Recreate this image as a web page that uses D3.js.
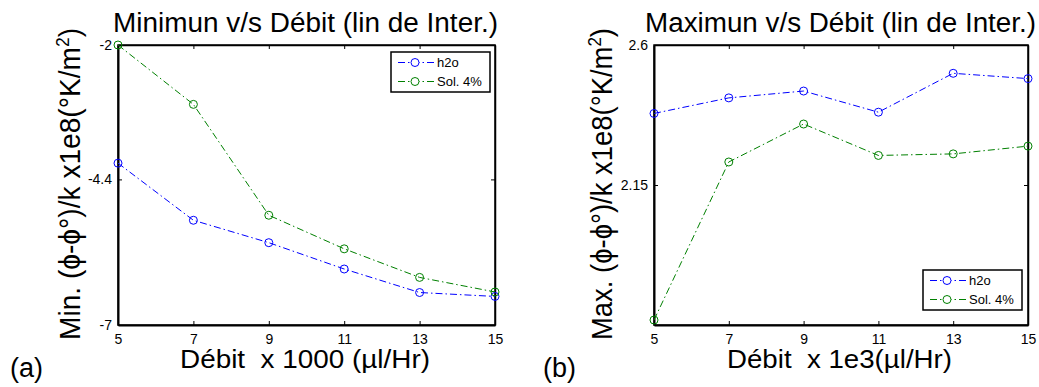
<!DOCTYPE html>
<html>
<head>
<meta charset="utf-8">
<script src="https://cdn.jsdelivr.net/npm/d3@7"></script>
<style>
  html, body { margin: 0; padding: 0; background: #fff; }
  svg { display: block; font-family: "Liberation Sans", Arial, sans-serif; }
</style>
</head>
<body>
<svg id="chart" width="1039" height="387"></svg>
<script>
// ---- data ----
const debit = [5, 7, 9, 11, 13, 15];
const seriesNames = ["h2o", "Sol. 4%"];
const minH2o = [-4.11, -5.13, -5.53, -6.00, -6.42, -6.49];
const minSol = [-2.00, -3.06, -5.04, -5.64, -6.15, -6.41];
const maxH2o = [2.380, 2.430, 2.452, 2.384, 2.509, 2.492];
const maxSol = [1.716, 2.224, 2.346, 2.245, 2.250, 2.275];
const minYTicks = [-2, -4.4, -7];
const maxYTicks = [2.6, 2.15];
const xTicks = [5, 7, 9, 11, 13, 15];

const colors = ["#0000ff", "#008000"];
const svg = d3.select("#chart");

function panel(opts) {
  const x = d3.scaleLinear().domain([5, 15]).range([opts.x0, opts.x1]);
  const y = d3.scaleLinear().domain(opts.ydom).range([325, 45]);
  const g = svg.append("g");

  // box
  g.append("rect").attr("x", opts.x0).attr("y", 45)
    .attr("width", opts.x1 - opts.x0).attr("height", 280)
    .attr("fill", "none").attr("stroke", "#000").attr("stroke-width", 1.5);

  // axes with inward ticks
  const fmtY = d => String(d);
  const ax = g.append("g").attr("transform", `translate(0,325)`)
    .call(d3.axisBottom(x).tickValues(xTicks).tickSizeInner(-4).tickSizeOuter(0).tickPadding(9));
  const axT = g.append("g").attr("transform", `translate(0,45)`)
    .call(d3.axisTop(x).tickValues(xTicks).tickSizeInner(-4).tickSizeOuter(0).tickFormat(""));
  const ay = g.append("g").attr("transform", `translate(${opts.x0},0)`)
    .call(d3.axisLeft(y).tickValues(opts.yticks).tickSizeInner(-4).tickSizeOuter(0).tickPadding(6).tickFormat(fmtY));
  const ayR = g.append("g").attr("transform", `translate(${opts.x1},0)`)
    .call(d3.axisRight(y).tickValues(opts.yticks).tickSizeInner(-4).tickSizeOuter(0).tickFormat(""));
  [ax, axT, ay, ayR].forEach(a => {
    a.select(".domain").attr("stroke", "#000").attr("stroke-width", 1.5);
    a.selectAll(".tick line").attr("stroke", "#000");
    a.selectAll("text").attr("font-size", 14).attr("fill", "#000")
      .attr("font-family", "'Liberation Sans', Arial, sans-serif");
  });
  ax.select(".domain").attr("stroke-width", 2);
  ay.select(".domain").attr("stroke-width", 2);

  // series
  const line = d3.line().x((d, i) => x(debit[i])).y(d => y(d));
  opts.series.forEach((s, k) => {
    g.append("path").datum(s).attr("d", line)
      .attr("fill", "none").attr("stroke", colors[k]).attr("stroke-width", 1)
      .attr("stroke-dasharray", "7,3,1.5,3");
    g.selectAll(null).data(s).enter().append("circle")
      .attr("cx", (d, i) => x(debit[i])).attr("cy", d => y(d)).attr("r", 4)
      .attr("fill", "none").attr("stroke", colors[k]).attr("stroke-width", 1);
  });

  // legend
  const L = opts.legend;
  g.append("rect").attr("x", L.x).attr("y", L.y).attr("width", 99).attr("height", 40)
    .attr("fill", "#fff").attr("stroke", "#000").attr("stroke-width", 1.5);
  seriesNames.forEach((n, k) => {
    const cy = L.y + 10.5 + k * 19;
    g.append("line").attr("x1", L.x + 7).attr("x2", L.x + 44).attr("y1", cy).attr("y2", cy)
      .attr("stroke", colors[k]).attr("stroke-width", 1).attr("stroke-dasharray", "7,3,1.5,3");
    g.append("circle").attr("cx", L.x + 24).attr("cy", cy).attr("r", 4)
      .attr("fill", "#fff").attr("stroke", colors[k]).attr("stroke-width", 1);
    g.append("text").attr("x", L.x + 46).attr("y", cy + 4.5).attr("font-size", 13)
      .attr("fill", "#000").text(n);
  });

  // titles and labels
  g.append("text").attr("x", opts.titleX).attr("y", 32).attr("text-anchor", "middle")
    .attr("font-size", 27).attr("fill", "#000")
    .attr("textLength", opts.titleLen).attr("lengthAdjust", "spacingAndGlyphs").text(opts.title);
  g.append("text").attr("x", opts.xlabX).attr("y", 368).attr("text-anchor", "middle")
    .attr("font-size", 25).attr("fill", "#000").attr("xml:space", "preserve")
    .attr("textLength", opts.xlabLen).attr("lengthAdjust", "spacingAndGlyphs").text(opts.xlabel);
  g.append("text").attr("transform", `translate(${opts.ylabX},184) rotate(-90)`)
    .attr("text-anchor", "middle").attr("font-size", 29).attr("fill", "#000")
    .attr("textLength", 312).attr("lengthAdjust", "spacingAndGlyphs")
    .html(opts.ylabel);
  g.append("text").attr("x", opts.tagX).attr("y", 377).attr("font-size", 27)
    .attr("fill", "#000").text(opts.tag);
}

panel({
  x0: 118, x1: 495, ydom: [-7, -2], yticks: minYTicks,
  series: [minH2o, minSol],
  legend: { x: 391, y: 52 },
  title: "Minimun v/s Débit (lin de Inter.)", titleX: 305.5, titleLen: 385,
  xlabel: "Débit  x 1000 (µl/Hr)", xlabX: 305, xlabLen: 250,
  ylabel: "Min. (ϕ-ϕ°)/k x1e8(°K/m<tspan font-size='18' dy='-11'>2</tspan><tspan dy='11'>)</tspan>", ylabX: 80,
  tag: "(a)", tagX: 10
});
panel({
  x0: 654, x1: 1028, ydom: [1.7, 2.6], yticks: maxYTicks,
  series: [maxH2o, maxSol],
  legend: { x: 923, y: 270 },
  title: "Maximun v/s Débit (lin de Inter.)", titleX: 840.5, titleLen: 391,
  xlabel: "Débit  x 1e3(µl/Hr)", xlabX: 839.5, xlabLen: 225,
  ylabel: "Max. (ϕ-ϕ°)/k x1e8(°K/m<tspan font-size='18' dy='-11'>2</tspan><tspan dy='11'>)</tspan>", ylabX: 612,
  tag: "(b)", tagX: 543
});
</script>
</body>
</html>
